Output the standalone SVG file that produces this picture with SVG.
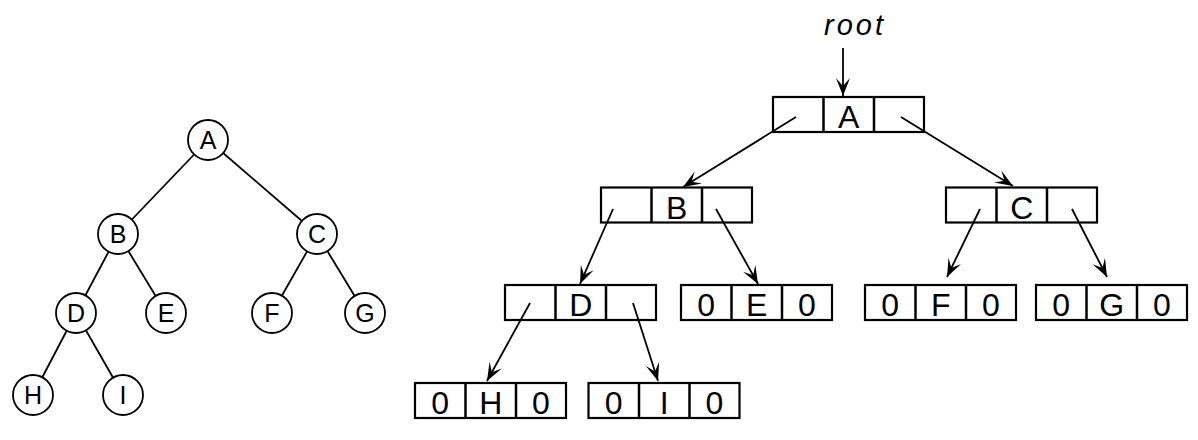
<svg xmlns="http://www.w3.org/2000/svg" width="1198" height="440" viewBox="0 0 1198 440">
<style>
.edge{stroke:#000;stroke-width:1.8;fill:none}
.arr{stroke:#000;stroke-width:1.8;fill:none;marker-end:url(#ah)}
.circ{fill:#fff;stroke:#000;stroke-width:1.8}
.lt{font-family:"Liberation Sans",Arial,sans-serif;font-size:25px;text-anchor:middle;fill:#000}
.box{fill:none;stroke:#000;stroke-width:2.2}
.div{stroke:#000;stroke-width:2.5}
.bt{font-family:"Liberation Sans",Arial,sans-serif;font-size:32px;text-anchor:middle;fill:#000}
.root{font-family:"Liberation Sans",Arial,sans-serif;font-size:29px;font-style:italic;letter-spacing:3px;fill:#000}
</style>
<defs>
<marker id="ah" markerUnits="userSpaceOnUse" markerWidth="20" markerHeight="16" refX="18" refY="7" orient="auto">
<path d="M18,7 L0,0 L8,7 L0,14 Z" fill="#000"/>
</marker>
</defs>
<rect width="1198" height="440" fill="#fff"/>
<g id="connectors">
<line class="edge" x1="208" y1="140" x2="118" y2="234"/>
<line class="edge" x1="208" y1="140" x2="317" y2="234"/>
<line class="edge" x1="118" y1="234" x2="76" y2="313"/>
<line class="edge" x1="118" y1="234" x2="166" y2="313"/>
<line class="edge" x1="317" y1="234" x2="272" y2="313"/>
<line class="edge" x1="317" y1="234" x2="365" y2="313"/>
<line class="edge" x1="76" y1="313" x2="33" y2="395"/>
<line class="edge" x1="76" y1="313" x2="123" y2="395"/>
<line class="arr" x1="843" y1="48" x2="843" y2="96"/>
<line class="arr" x1="796" y1="117" x2="683" y2="187"/>
<line class="arr" x1="901" y1="117" x2="1013" y2="186"/>
<line class="arr" x1="613" y1="209" x2="580" y2="284"/>
<line class="arr" x1="716" y1="209" x2="758" y2="284"/>
<line class="arr" x1="980" y1="209" x2="947" y2="277"/>
<line class="arr" x1="1072" y1="209" x2="1107" y2="277"/>
<line class="arr" x1="530" y1="303" x2="487" y2="381"/>
<line class="arr" x1="633" y1="303" x2="658" y2="381"/>
</g>
<g id="tree-A"><circle class="circ" cx="208" cy="140" r="20"/><text class="lt" x="208" y="149">A</text></g>
<g id="tree-B"><circle class="circ" cx="118" cy="234" r="20"/><text class="lt" x="118" y="243">B</text></g>
<g id="tree-C"><circle class="circ" cx="317" cy="234" r="20"/><text class="lt" x="317" y="243">C</text></g>
<g id="tree-D"><circle class="circ" cx="76" cy="313" r="20"/><text class="lt" x="76" y="322">D</text></g>
<g id="tree-E"><circle class="circ" cx="166" cy="313" r="20"/><text class="lt" x="166" y="322">E</text></g>
<g id="tree-F"><circle class="circ" cx="272" cy="313" r="20"/><text class="lt" x="272" y="322">F</text></g>
<g id="tree-G"><circle class="circ" cx="365" cy="313" r="20"/><text class="lt" x="365" y="322">G</text></g>
<g id="tree-H"><circle class="circ" cx="33" cy="395" r="20"/><text class="lt" x="33" y="404">H</text></g>
<g id="tree-I"><circle class="circ" cx="123" cy="395" r="20"/><text class="lt" x="123" y="404">I</text></g>
<g id="root-label"><text class="root" x="824" y="35">root</text></g>
<g id="node-A" transform="translate(773,97)">
<rect class="box" x="0" y="0" width="151" height="35"/><line class="div" x1="50.5" y1="0" x2="50.5" y2="35"/><line class="div" x1="101" y1="0" x2="101" y2="35"/>
<text class="bt" x="75.75" y="31">A</text></g>
<g id="node-B" transform="translate(601,187.5)">
<rect class="box" x="0" y="0" width="151" height="35"/><line class="div" x1="50.5" y1="0" x2="50.5" y2="35"/><line class="div" x1="101" y1="0" x2="101" y2="35"/>
<text class="bt" x="75.75" y="31">B</text></g>
<g id="node-C" transform="translate(946,187.5)">
<rect class="box" x="0" y="0" width="151" height="35"/><line class="div" x1="50.5" y1="0" x2="50.5" y2="35"/><line class="div" x1="101" y1="0" x2="101" y2="35"/>
<text class="bt" x="75.75" y="31">C</text></g>
<g id="node-D" transform="translate(505,285)">
<rect class="box" x="0" y="0" width="151" height="35"/><line class="div" x1="50.5" y1="0" x2="50.5" y2="35"/><line class="div" x1="101" y1="0" x2="101" y2="35"/>
<text class="bt" x="75.75" y="31">D</text></g>
<g id="node-E" transform="translate(681,285)">
<rect class="box" x="0" y="0" width="151" height="35"/><line class="div" x1="50.5" y1="0" x2="50.5" y2="35"/><line class="div" x1="101" y1="0" x2="101" y2="35"/>
<text class="bt" x="25.25" y="31">0</text><text class="bt" x="75.75" y="31">E</text><text class="bt" x="126" y="31">0</text></g>
<g id="node-F" transform="translate(865,285)">
<rect class="box" x="0" y="0" width="151" height="35"/><line class="div" x1="50.5" y1="0" x2="50.5" y2="35"/><line class="div" x1="101" y1="0" x2="101" y2="35"/>
<text class="bt" x="25.25" y="31">0</text><text class="bt" x="75.75" y="31">F</text><text class="bt" x="126" y="31">0</text></g>
<g id="node-G" transform="translate(1036,285)">
<rect class="box" x="0" y="0" width="151" height="35"/><line class="div" x1="50.5" y1="0" x2="50.5" y2="35"/><line class="div" x1="101" y1="0" x2="101" y2="35"/>
<text class="bt" x="25.25" y="31">0</text><text class="bt" x="75.75" y="31">G</text><text class="bt" x="126" y="31">0</text></g>
<g id="node-H" transform="translate(415,383)">
<rect class="box" x="0" y="0" width="151" height="35"/><line class="div" x1="50.5" y1="0" x2="50.5" y2="35"/><line class="div" x1="101" y1="0" x2="101" y2="35"/>
<text class="bt" x="25.25" y="31">0</text><text class="bt" x="75.75" y="31">H</text><text class="bt" x="126" y="31">0</text></g>
<g id="node-I" transform="translate(588.5,383)">
<rect class="box" x="0" y="0" width="151" height="35"/><line class="div" x1="50.5" y1="0" x2="50.5" y2="35"/><line class="div" x1="101" y1="0" x2="101" y2="35"/>
<text class="bt" x="25.25" y="31">0</text><text class="bt" x="75.75" y="31">I</text><text class="bt" x="126" y="31">0</text></g>
</svg>
